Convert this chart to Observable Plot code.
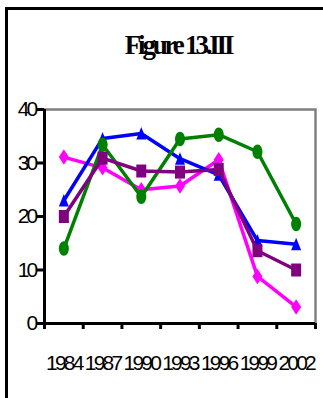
<!DOCTYPE html>
<html><head><meta charset="utf-8">
<script src="https://cdn.jsdelivr.net/npm/d3@7"></script>
<script src="https://cdn.jsdelivr.net/npm/@observablehq/plot@0.6"></script>
<style>
html,body{margin:0;padding:0;background:#fff;}
#wrap{position:relative;width:323px;height:398px;overflow:hidden;background:#fff;}
#border{position:absolute;left:5px;top:7px;width:400px;height:500px;border-left:3px solid #000;border-top:3px solid #000;}
#title{position:absolute;left:0;width:356px;top:32px;text-align:center;font-family:"Liberation Serif",serif;font-weight:bold;font-size:27px;line-height:27px;letter-spacing:-3.2px;color:#000;}
#chart{position:absolute;left:0;top:90px;}
#chart text{letter-spacing:-2.8px;}
</style></head><body>
<div id="wrap"><div id="border"></div><div id="title">Figure 13.III</div><div id="chart"></div></div>
<script>
// ---- data ----
const years = [1984, 1987, 1990, 1993, 1996, 1999, 2002];
const yTicks = [0, 10, 20, 30, 40];
const pink   = [31.1, 29.1, 25.0, 25.7, 30.6, 8.8, 3.1];
const blue   = [23.0, 34.6, 35.5, 30.8, 27.8, 15.5, 14.8];
const green  = [14.0, 33.4, 23.7, 34.5, 35.3, 32.1, 18.6];
const purple = [20.0, 30.9, 28.5, 28.3, 28.8, 13.6, 10.0];

// ---- custom (slightly tall) marker shapes ----
function poly(pts) {
  return {draw(ctx, size) {
    const s = Math.sqrt(size / Math.PI);
    pts.forEach(([a, b], i) => i ? ctx.lineTo(a * s, b * s) : ctx.moveTo(a * s, b * s));
    ctx.closePath();
  }};
}
const diamondSym = poly([[0, -1.55], [1, 0], [0, 1.55], [-1, 0]]);
const triangleSym = poly([[0, -1.3], [1, 1.2], [-1, 1.2]]);
const squareSym = poly([[-1, -1.3], [1, -1.3], [1, 1.3], [-1, 1.3]]);
const ellipseSym = {draw(ctx, size) {
  const s = Math.sqrt(size / Math.PI), rx = s, ry = 1.45 * s, k = 0.5523;
  ctx.moveTo(0, -ry);
  ctx.bezierCurveTo(k * rx, -ry, rx, -k * ry, rx, 0);
  ctx.bezierCurveTo(rx, k * ry, k * rx, ry, 0, ry);
  ctx.bezierCurveTo(-k * rx, ry, -rx, k * ry, -rx, 0);
  ctx.bezierCurveTo(-rx, -k * ry, -k * rx, -ry, 0, -ry);
  ctx.closePath();
}};

const series = [
  {values: pink, color: "#FF00FF", symbol: diamondSym},
  {values: blue, color: "#0000FF", symbol: triangleSym},
  {values: green, color: "#008000", symbol: ellipseSym},
  {values: purple, color: "#800080", symbol: squareSym}
];

const x0 = years[0] - 1.5, x1 = years[years.length - 1] + 1.5;
const bounds = years.map(y => y - 1.5).concat([x1]);

const seriesMarks = series.flatMap(s => {
  const rows = years.map((year, i) => ({year, value: s.values[i]}));
  return [
    Plot.line(rows, {x: "year", y: "value", stroke: s.color, strokeWidth: 3.5, strokeLinejoin: "round"}),
    Plot.dot(rows, {x: "year", y: "value", symbol: s.symbol, fill: s.color, stroke: "none", r: 5})
  ];
});

const chart = Plot.plot({
  width: 323, height: 308,
  marginLeft: 44, marginRight: 8, marginTop: 19, marginBottom: 75,
  x: {type: "linear", domain: [x0, x1]},
  y: {domain: [0, 40]},
  style: {fontFamily: "'Liberation Sans', Arial, sans-serif", fontSize: "21px", background: "transparent", color: "#000"},
  marks: [
    Plot.frame({stroke: "#808080", strokeWidth: 2.5}),
    Plot.axisY({ticks: yTicks, tickSize: 7, tickPadding: 2, strokeWidth: 3, label: null, fontSize: 21}),
    Plot.axisX({ticks: bounds, tickSize: 6, strokeWidth: 3, tickFormat: () => "", label: null}),
    Plot.axisX({ticks: years, tickSize: 0, tickPadding: 32, tickFormat: d => String(d), label: null, fontSize: 21}),
    Plot.ruleX([x0], {stroke: "#000", strokeWidth: 3}),
    Plot.ruleY([0], {stroke: "#000", strokeWidth: 3}),
    ...seriesMarks
  ]
});
document.getElementById("chart").appendChild(chart);
</script>
</body></html>
